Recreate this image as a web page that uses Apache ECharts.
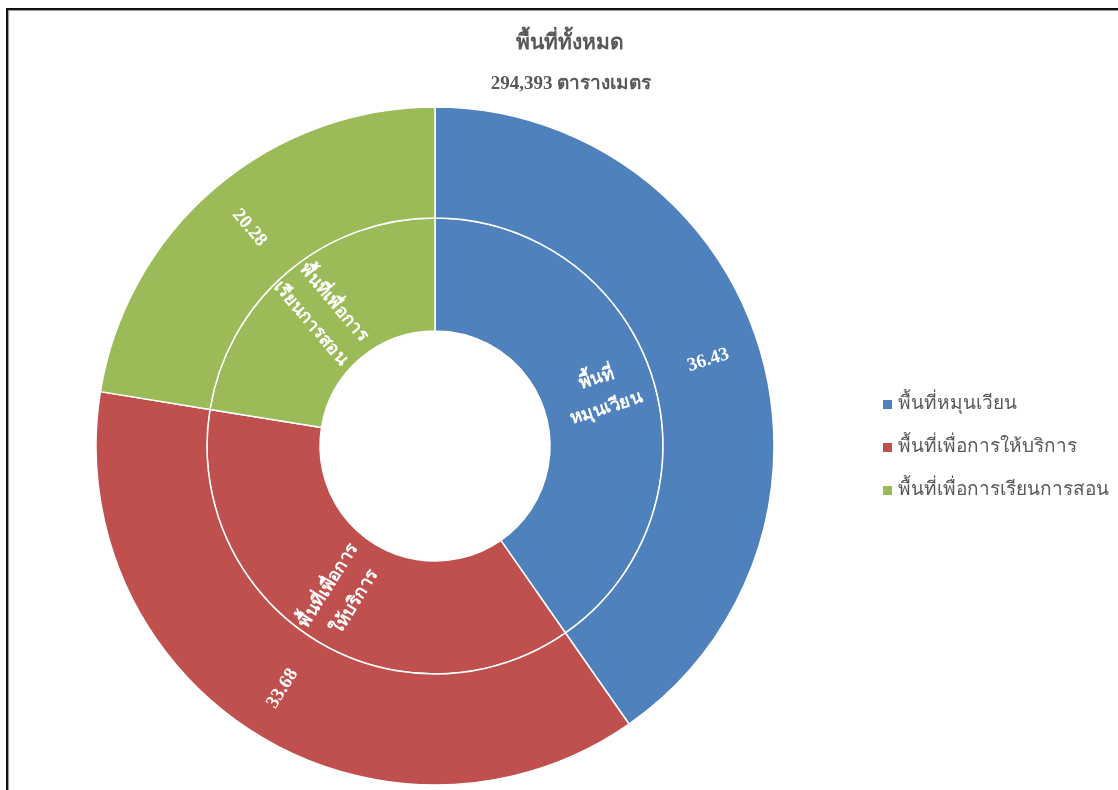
<!DOCTYPE html>
<html>
<head>
<meta charset="utf-8">
<script src="https://cdn.jsdelivr.net/npm/echarts@6/dist/echarts.min.js"></script>
<style>
html,body{margin:0;padding:0;background:#fff;}
#frame{position:absolute;left:6px;top:8px;width:1130px;height:800px;border-left:2px solid #111;border-top:2px solid #111;box-shadow:1px 1px 1px #999 inset;}
#chart{position:absolute;left:0;top:0;width:1118px;height:790px;}
</style>
</head>
<body>
<div id="frame"></div>
<div id="chart"></div>
<script>
const categories = ['พื้นที่หมุนเวียน', 'พื้นที่เพื่อการให้บริการ', 'พื้นที่เพื่อการเรียนการสอน'];
const innerLabels = ['พื้นที่\nหมุนเวียน', 'พื้นที่เพื่อการ\nให้บริการ', 'พื้นที่เพื่อการ\nเรียนการสอน'];
const values = [36.43, 33.68, 20.28];
const colors = ['#4F81BD', '#C0504D', '#9BBB59'];
const titleText = 'พื้นที่ทั้งหมด';
const subTitleText = '294,393 ตารางเมตร';

const font = '"Liberation Serif", "Times New Roman", serif';
const chart = echarts.init(document.getElementById('chart'));
chart.setOption({
  backgroundColor: 'transparent',
  color: colors,
  title: [
    {text: titleText, left: 565, top: 28, textAlign: 'center',
     textStyle: {fontFamily: font, fontSize: 21, fontWeight: 'bold', color: '#595959'}},
    {text: subTitleText, left: 566, top: 70, textAlign: 'center',
     textStyle: {fontFamily: font, fontSize: 19, fontWeight: 'bold', color: '#595959'}}
  ],
  legend: {
    orient: 'vertical', left: 876, top: 390, itemWidth: 11, itemHeight: 11, itemGap: 24,
    icon: 'rect', data: categories,
    textStyle: {fontFamily: font, fontSize: 19, color: '#595959'}
  },
  series: [
    {
      type: 'pie', center: [435, 446], radius: [115, 228], startAngle: 90, clockwise: true,
      silent: true, animation: false,
      itemStyle: {borderColor: '#fff', borderWidth: 1.5},
      label: {
        position: 'inside', rotate: 'radial', color: '#fff', fontFamily: font, fontSize: 18,
        fontWeight: 'bold', lineHeight: 31,
        formatter: p => innerLabels[p.dataIndex]
      },
      labelLine: {show: false},
      data: categories.map((c, i) => ({name: c, value: values[i]}))
    },
    {
      type: 'pie', center: [435, 446], radius: [228, 339], startAngle: 90, clockwise: true,
      silent: true, animation: false,
      itemStyle: {borderColor: '#fff', borderWidth: 1.5},
      label: {
        position: 'inside', rotate: 'radial', color: '#fff', fontFamily: font, fontSize: 19,
        fontWeight: 'bold',
        formatter: p => values[p.dataIndex].toFixed(2)
      },
      labelLine: {show: false},
      data: categories.map((c, i) => ({name: c, value: values[i]}))
    }
  ]
});
</script>
</body>
</html>
